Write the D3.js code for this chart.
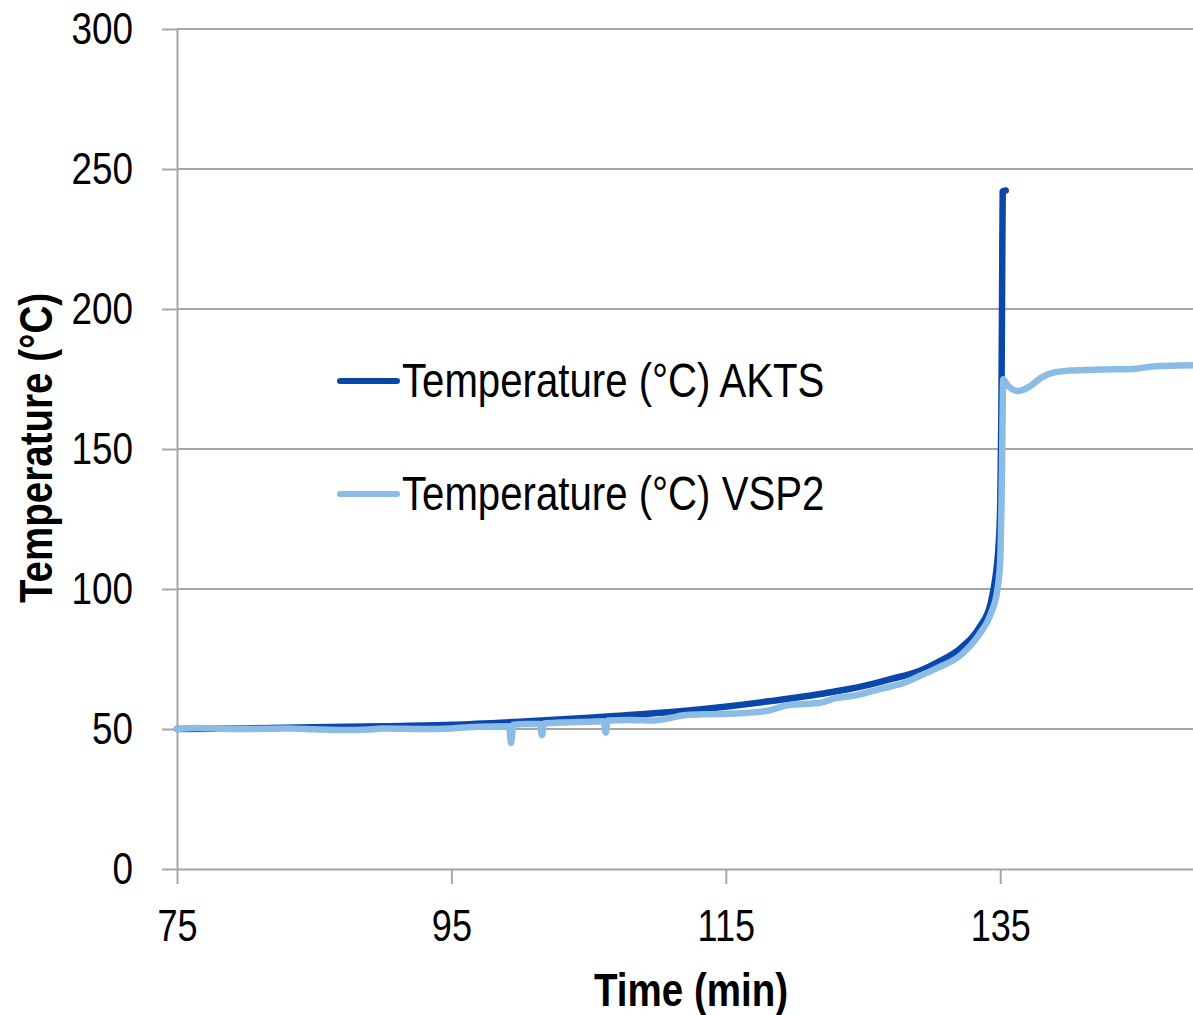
<!DOCTYPE html>
<html>
<head>
<meta charset="utf-8">
<script src="https://cdn.jsdelivr.net/npm/d3@7"></script>
<style>
  body { margin: 0; background: #fff; }
  text { font-family: "Liberation Sans", Arial, sans-serif; }
</style>
</head>
<body>
<div id="chart"></div>
<script>
const width = 1193;
const height = 1015;
const margins = {top: 29, right: 0, bottom: 146, left: 177};
const narrowK = 0.82; // squeeze Liberation Sans to look like Arial Narrow

// AKTS series (time in min, temperature in °C)
const aktsTime = [75, 80, 85, 90, 95, 100, 105, 110, 114.6, 118, 122, 125, 127, 129.2, 130.5, 132.1, 133.5, 134.3, 134.55, 134.75, 134.9, 135.0, 135.08, 135.14, 135.18, 135.4];
const aktsTemp = [50.0, 50.2, 50.6, 51.0, 51.5, 52.6, 54.0, 55.7, 57.8, 59.8, 62.6, 65.3, 67.8, 70.9, 74.0, 78.8, 86.4, 94.8, 101, 108, 117, 130, 160, 210, 242, 242.3];

// VSP2 series
const vspTime = [75, 76.5, 78, 80, 83, 85, 87, 89, 90, 93, 95, 97, 99.2, 99.35, 99.5, 100.5, 101.45, 101.6, 101.75, 103, 105, 106.1, 106.25, 106.4, 108, 109.7, 111, 112.1, 114, 116, 118, 119.5, 121, 122, 123, 124.5, 126, 128, 129.2, 130.5, 132.1, 133.5, 134.3, 134.8, 135.0, 135.12, 135.22, 135.5, 136.3, 137.2, 138, 138.8, 140, 142.3, 144.7, 146.1, 149];
const vspTemp = [50.0, 50.4, 50.1, 50.0, 50.2, 49.9, 49.6, 49.8, 50.2, 50.0, 50.2, 50.8, 51.0, 45.0, 51.5, 51.8, 51.8, 47.8, 52.0, 52.3, 52.6, 52.8, 48.7, 53.0, 53.2, 53.0, 54.0, 55.0, 55.3, 55.6, 56.5, 58.5, 59.0, 59.5, 61.0, 62.0, 64.0, 66.5, 69.1, 72.0, 76.3, 84.0, 91.0, 100, 110, 140, 174.9, 173.0, 170.7, 172.5, 175.5, 177.2, 178.0, 178.4, 178.6, 179.5, 179.9];

const xTicks = [75, 95, 115, 135];
const yTicks = [0, 50, 100, 150, 200, 250, 300];
const seriesNames = ["Temperature (°C) AKTS", "Temperature (°C) VSP2"];
const colors = ["#0a47ab", "#8bbce6"];

const aktsData = aktsTime.map((t, i) => ({t: t, v: aktsTemp[i]}));
const vspData = vspTime.map((t, i) => ({t: t, v: vspTemp[i]}));

const svg = d3.select("#chart")
  .append("svg")
  .attr("width", width)
  .attr("height", height);

const xScale = d3.scaleLinear()
  .domain([75, 149.05])
  .range([margins.left, width - margins.right]);

const yScale = d3.scaleLinear()
  .domain([0, 300])
  .range([height - margins.bottom, margins.top]);

function narrow(sel) {
  sel.each(function() {
    const t = d3.select(this);
    const x = +t.attr("x") || 0;
    t.attr("x", x / narrowK)
     .attr("transform", (t.attr("transform") || "") + " scale(" + narrowK + ",1)");
  });
}

// gridlines
svg.append("g")
  .selectAll("line")
  .data(yTicks.filter(d => d > 0))
  .join("line")
    .attr("x1", margins.left)
    .attr("x2", width - margins.right)
    .attr("y1", d => yScale(d))
    .attr("y2", d => yScale(d))
    .attr("stroke", "#a6a6a6")
    .attr("stroke-width", 2);

function xAxis(g) {
  g.attr("transform", "translate(0," + yScale(0) + ")")
    .call(d3.axisBottom(xScale).tickValues(xTicks).tickSize(15).tickPadding(26).tickSizeOuter(0))
    .call(g => g.select(".domain").attr("stroke", "#a6a6a6").attr("stroke-width", 2))
    .call(g => g.selectAll(".tick line").attr("stroke", "#a6a6a6").attr("stroke-width", 2))
    .selectAll("text")
      .attr("font-size", "44px")
      .attr("fill", "#000")
      .call(narrow);
}

function yAxis(g) {
  g.attr("transform", "translate(" + margins.left + ",0)")
    .call(d3.axisLeft(yScale).tickValues(yTicks).tickSize(15).tickPadding(29).tickSizeOuter(0))
    .call(g => g.select(".domain").attr("stroke", "#a6a6a6").attr("stroke-width", 2))
    .call(g => g.selectAll(".tick line").attr("stroke", "#a6a6a6").attr("stroke-width", 2))
    .selectAll("text")
      .attr("font-size", "45px")
      .attr("fill", "#000")
      .call(narrow);
}

svg.append("g").call(xAxis);
svg.append("g").call(yAxis);

// axis titles
svg.append("text")
  .attr("transform", "translate(691,1006)")
  .attr("text-anchor", "middle")
  .attr("font-size", "47px")
  .attr("font-weight", "bold")
  .text("Time (min)")
  .call(narrow);

svg.append("text")
  .attr("transform", "translate(52,448) rotate(-90)")
  .attr("text-anchor", "middle")
  .attr("font-size", "47px")
  .attr("font-weight", "bold")
  .text("Temperature (°C)")
  .call(narrow);

// lines
const line = d3.line()
  .x(d => xScale(d.t))
  .y(d => yScale(d.v))
  .curve(d3.curveMonotoneX);

svg.append("g")
  .selectAll("path")
  .data([aktsData, vspData])
  .join("path")
    .attr("d", line)
    .attr("fill", "none")
    .attr("stroke", (d, i) => colors[i])
    .attr("stroke-width", 6.5)
    .attr("stroke-linecap", "round")
    .attr("stroke-linejoin", "round");

// legend
const legend = svg.append("g")
  .selectAll("g")
  .data(seriesNames)
  .join("g")
    .attr("transform", (d, i) => "translate(340," + (381 + i * 113) + ")");

legend.append("line")
  .attr("x1", 0)
  .attr("x2", 57)
  .attr("stroke", (d, i) => colors[i])
  .attr("stroke-width", 6)
  .attr("stroke-linecap", "round");

legend.append("text")
  .attr("x", 62)
  .attr("y", 16)
  .attr("font-size", "49px")
  .attr("fill", "#000")
  .text(d => d)
  .call(narrow);
</script>
</body>
</html>
